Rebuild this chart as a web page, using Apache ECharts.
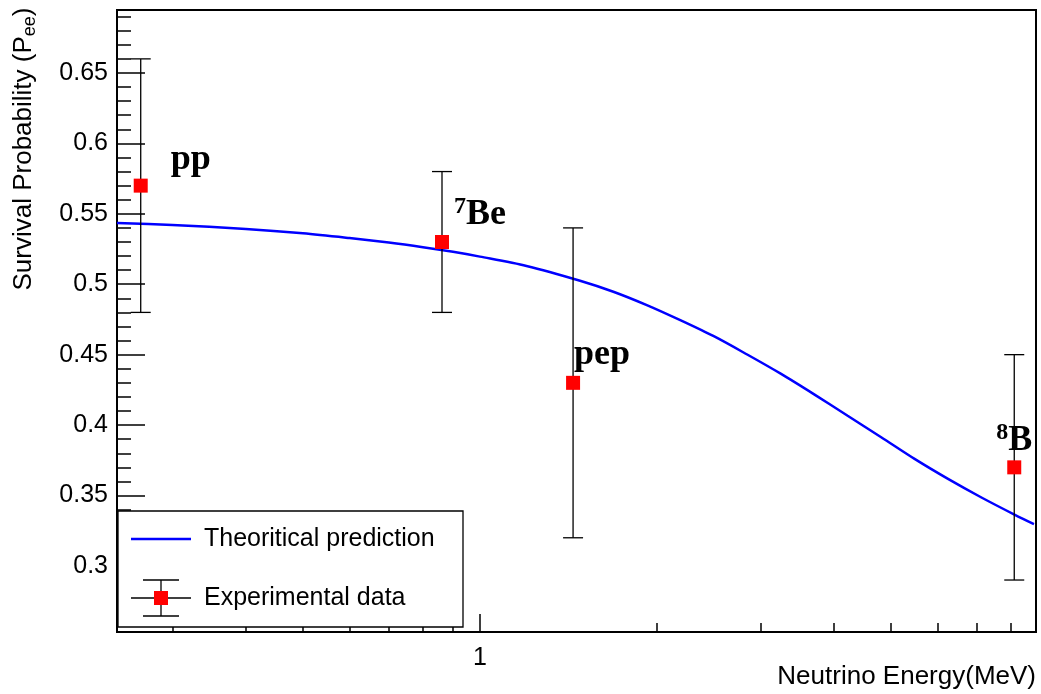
<!DOCTYPE html>
<html><head><meta charset="utf-8">
<script src="https://cdn.jsdelivr.net/npm/echarts@6/dist/echarts.min.js"></script>
<style>html,body{margin:0;padding:0;background:#fff}#c{width:1041px;height:694px}</style>
</head><body><div id="c"></div>
<script>
// ---- data ----
const sources   = ['pp', '7Be', 'pep', '8B'];
const labelSup  = ['', '7', '', '8'];
const labelMain = ['pp', 'Be', 'pep', 'B'];
const energy    = [0.265, 0.862, 1.44, 8.1];
const prob      = [0.57, 0.53, 0.43, 0.37];
const errLow    = [0.48, 0.48, 0.32, 0.29];
const errHigh   = [0.66, 0.58, 0.54, 0.45];

const theoryE = [0.2415, 0.30, 0.40, 0.50, 0.60, 0.70, 0.80, 0.90, 1.0, 1.2, 1.480, 1.686, 1.922, 2.191, 2.498, 2.847, 3.246, 3.701, 4.219, 4.811, 5.483, 6.250, 7.124, 8.121, 8.750];
const theoryP = [0.5435, 0.5421, 0.5393, 0.5362, 0.5328, 0.5296, 0.5263, 0.5230, 0.5196, 0.5130, 0.5025, 0.4947, 0.4852, 0.4745, 0.4631, 0.4501, 0.4365, 0.4218, 0.4066, 0.3914, 0.3760, 0.3618, 0.3486, 0.3363, 0.3297];

const xMajorTicks = [1];
const xMinorTicks = [0.3, 0.4, 0.5, 0.6, 0.7, 0.8, 0.9, 2, 3, 4, 5, 6, 7, 8];
const yMajorTicks = [0.3, 0.35, 0.4, 0.45, 0.5, 0.55, 0.6, 0.65];
const yMinorTicks = [0.26, 0.27, 0.28, 0.29, 0.31, 0.32, 0.33, 0.34, 0.36, 0.37, 0.38, 0.39, 0.41, 0.42, 0.43, 0.44, 0.46, 0.47, 0.48, 0.49, 0.51, 0.52, 0.53, 0.54, 0.56, 0.57, 0.58, 0.59, 0.61, 0.62, 0.63, 0.64, 0.66, 0.67, 0.68, 0.69];

const xTitle = 'Neutrino Energy(MeV)';
const yTitleMain = 'Survival Probability (P';
const yTitleSub = 'ee';
const theoryName = 'Theoritical prediction';
const dataName = 'Experimental data';

// ---- layout / style ----
const X_MIN = 0.2415, X_MAX = 8.82, Y_MIN = 0.2531, Y_MAX = 0.6947;
const SANS = "'Liberation Sans', Arial, Helvetica, sans-serif";
const SERIF = "'Liberation Serif', 'Times New Roman', serif";
const labelOffsets = [[37, -39], [19, -40], [8, -41], [-11, -40]];

function svgIcon(svg) { return 'image://data:image/svg+xml;charset=utf-8,' + encodeURIComponent(svg); }
const lineIcon = svgIcon("<svg xmlns='http://www.w3.org/2000/svg' width='68' height='40' viewBox='0 0 68 40'><line x1='0' y1='20' x2='60' y2='20' stroke='#0000ff' stroke-width='2.5'/></svg>");
const errIcon = svgIcon("<svg xmlns='http://www.w3.org/2000/svg' width='68' height='40' viewBox='0 0 68 40'>" +
  "<g stroke='#000' stroke-width='1.3'><line x1='0' y1='20' x2='60' y2='20'/><line x1='30' y1='2' x2='30' y2='38'/>" +
  "<line x1='12' y1='2' x2='48' y2='2'/><line x1='12' y1='38' x2='48' y2='38'/></g>" +
  "<rect x='23' y='13' width='14' height='14' fill='#ff0000'/></svg>");

const chart = echarts.init(document.getElementById('c'), null, {renderer: 'canvas'});

const scatterData = energy.map((e, i) => ({
  name: sources[i],
  value: [e, prob[i]],
  label: {
    show: true,
    position: labelOffsets[i],
    align: 'left', verticalAlign: 'top',
    formatter: (labelSup[i] ? '{s|' + labelSup[i] + '}' : '') + '{b|' + labelMain[i] + '}'
  }
}));

const option = {
  animation: false,
  backgroundColor: '#fff',
  grid: {
    left: 117, right: 5, top: 10, bottom: 62,
    containLabel: false, outerBoundsMode: 'none',
    show: true, borderColor: '#000', borderWidth: 2, backgroundColor: 'transparent'
  },
  xAxis: [
    {
      type: 'log', logBase: 10, min: X_MIN, max: X_MAX,
      axisLine: {show: false},
      splitLine: {show: false},
      axisTick: {show: true, inside: true, length: 9, customValues: xMinorTicks, lineStyle: {color: '#000', width: 1.5}},
      axisLabel: {show: false},
      name: xTitle, nameLocation: 'end', nameGap: 0, nameMoveOverlap: false,
      nameTextStyle: {fontFamily: SANS, fontSize: 26, color: '#000', align: 'right', verticalAlign: 'top', padding: [32, 0, 0, 0]}
    },
    {
      type: 'log', logBase: 10, min: X_MIN, max: X_MAX, position: 'bottom',
      axisLine: {show: false},
      splitLine: {show: false},
      axisTick: {show: true, inside: true, length: 18, customValues: xMajorTicks, lineStyle: {color: '#000', width: 1.5}},
      axisLabel: {show: true, customValues: xMajorTicks, margin: 14, fontFamily: SANS, fontSize: 25, lineHeight: 25, color: '#000', formatter: v => String(v)}
    }
  ],
  yAxis: [
    {
      type: 'value', min: Y_MIN, max: Y_MAX,
      axisLine: {show: false},
      splitLine: {show: false},
      axisTick: {show: true, inside: true, length: 28, customValues: yMajorTicks, lineStyle: {color: '#000', width: 1.5}},
      axisLabel: {show: true, customValues: yMajorTicks, margin: 9, fontFamily: SANS, fontSize: 25, color: '#000', formatter: v => String(+v.toFixed(2))},
      name: '{n|' + yTitleMain + '}{sub|' + yTitleSub + '}{n|)}',
      nameLocation: 'middle', nameGap: 78, nameMoveOverlap: false,
      nameTextStyle: {
        padding: [0, 0, 0, 344],
        rich: {
          n: {fontFamily: SANS, fontSize: 26, lineHeight: 30, color: '#000'},
          sub: {fontFamily: SANS, fontSize: 18, lineHeight: 10, verticalAlign: 'bottom', color: '#000'}
        }
      }
    },
    {
      type: 'value', min: Y_MIN, max: Y_MAX, position: 'left',
      axisLine: {show: false},
      splitLine: {show: false},
      axisTick: {show: true, inside: true, length: 14, customValues: yMinorTicks, lineStyle: {color: '#000', width: 1.5}},
      axisLabel: {show: false}
    }
  ],
  legend: {
    orient: 'vertical', left: 131, top: 519, padding: 0,
    itemWidth: 68, itemHeight: 40, itemGap: 19,
    selectedMode: false, z: 20,
    textStyle: {fontFamily: SANS, fontSize: 25, color: '#000'},
    data: [{name: theoryName, icon: lineIcon}, {name: dataName, icon: errIcon}]
  },
  graphic: [
    {type: 'rect', z: 10, shape: {x: 118, y: 511, width: 345, height: 116}, style: {fill: '#fff', stroke: '#000', lineWidth: 1.3}}
  ],
  series: [
    {
      name: theoryName, type: 'line', xAxisIndex: 0, yAxisIndex: 0,
      data: theoryE.map((e, i) => [e, theoryP[i]]),
      smooth: 0.3, showSymbol: false, symbol: 'none',
      lineStyle: {color: '#0000ff', width: 2.5}, itemStyle: {color: '#0000ff'}, z: 3
    },
    {
      name: dataName, type: 'custom', xAxisIndex: 0, yAxisIndex: 0,
      data: energy.map((e, i) => [e, errLow[i], errHigh[i]]),
      encode: {x: 0, y: [1, 2]},
      renderItem: function (params, api) {
        const x = api.value(0);
        const pLo = api.coord([x, api.value(1)]);
        const pHi = api.coord([x, api.value(2)]);
        const w = 10;
        const st = {stroke: '#000', lineWidth: 1.3};
        return {type: 'group', children: [
          {type: 'line', shape: {x1: pLo[0], y1: pLo[1], x2: pHi[0], y2: pHi[1]}, style: st},
          {type: 'line', shape: {x1: pLo[0] - w, y1: pLo[1], x2: pLo[0] + w, y2: pLo[1]}, style: st},
          {type: 'line', shape: {x1: pHi[0] - w, y1: pHi[1], x2: pHi[0] + w, y2: pHi[1]}, style: st}
        ]};
      },
      itemStyle: {color: '#000'}, z: 4
    },
    {
      name: dataName, type: 'scatter', xAxisIndex: 0, yAxisIndex: 0,
      symbol: 'rect', symbolSize: 14,
      itemStyle: {color: '#ff0000', opacity: 1},
      data: scatterData,
      label: {
        rich: {
          b: {fontFamily: SERIF, fontWeight: 'bold', fontSize: 36, lineHeight: 40, color: '#000'},
          s: {fontFamily: SERIF, fontWeight: 'bold', fontSize: 24, lineHeight: 12, verticalAlign: 'top', color: '#000'}
        }
      },
      emphasis: {disabled: true},
      z: 5
    }
  ]
};
chart.setOption(option);
</script>
</body></html>
